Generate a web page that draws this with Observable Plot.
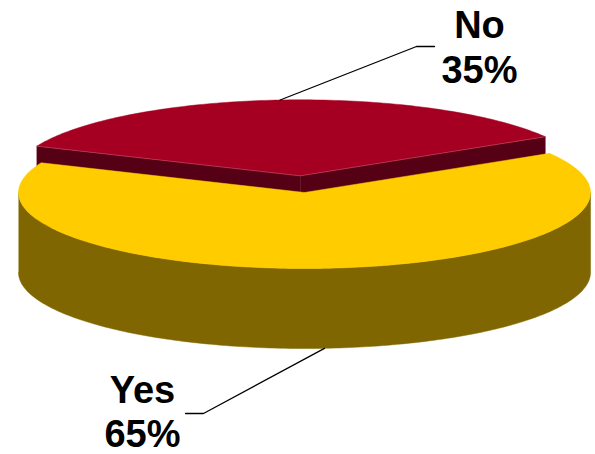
<!DOCTYPE html>
<html>
<head>
<meta charset="utf-8">
<script src="https://cdn.jsdelivr.net/npm/d3@7"></script>
<script src="https://cdn.jsdelivr.net/npm/@observablehq/plot@0.6"></script>
<style>
  html, body { margin: 0; padding: 0; background: #fff; }
  #chart svg { display: block; }
</style>
</head>
<body>
<div id="chart"></div>
<script>
// ---- data ----
const categories = ["Yes", "No"];
const values = [65, 35];
const topColors = ["#FFCC00", "#A50021"];
const sideColors = ["#806600", "#560016"];

// ---- layout ----
const W = 595, H = 454;
const cx = 304, cy = 192, rx = 286, ry = 76, depth = 80;
const startDeg = 31;            // where the "No" slice begins (counter-clockwise)
const explodeFrac = [0, 0.22];  // "No" slice is pulled out
const rad = d => d * Math.PI / 180;

// angles: No first from startDeg, then Yes
const total = d3.sum(values);
const order = [1, 0];
let acc = startDeg;
const slices = [];
for (const i of order) {
  const span = values[i] / total * 360;
  const a0 = acc, a1 = acc + span;
  acc = a1;
  const mid = rad((a0 + a1) / 2);
  const e = explodeFrac[i];
  slices[i] = {i, a0, a1, dx: e * rx * Math.cos(mid), dy: -e * ry * Math.sin(mid)};
}
const pt = (s, deg, down = 0) => ({
  x: cx + s.dx + rx * Math.cos(rad(deg)),
  y: cy + s.dy - ry * Math.sin(rad(deg)) + down
});
const arc = (s, from, to, down = 0) => {
  const n = Math.max(2, Math.ceil(Math.abs(to - from) / 1));
  return d3.range(n + 1).map(k => pt(s, from + (to - from) * k / n, down));
};
const apex = (s, down = 0) => ({x: cx + s.dx, y: cy + s.dy + down});

const marks = [];
// back slice (No): cut faces then top
{
  const s = slices[1];
  for (const a of [s.a1, s.a0]) {
    const p = pt(s, a);
    const face = [apex(s), p, {x: p.x, y: p.y + depth}, apex(s, depth)];
    marks.push(Plot.line(face, {x: "x", y: "y", fill: sideColors[1], stroke: sideColors[1], strokeWidth: 0.5}));
  }
  const top = [apex(s), ...arc(s, s.a0, s.a1), apex(s)];
  marks.push(Plot.line(top, {x: "x", y: "y", fill: topColors[1], stroke: topColors[1], strokeWidth: 0.5}));
  marks.push(Plot.line([pt(s, s.a1), apex(s), pt(s, s.a0)], {x: "x", y: "y", stroke: "#c8506a", strokeWidth: 0.8, strokeOpacity: 0.7}));
}
// front slice (Yes): outer side then top
{
  const s = slices[0];
  const from = Math.max(s.a0, 180), to = Math.min(s.a1, 360);
  const side = [...arc(s, from, to), ...arc(s, to, from, depth)];
  marks.push(Plot.line(side, {x: "x", y: "y", fill: sideColors[0], stroke: sideColors[0], strokeWidth: 0.5}));
  const top = [apex(s), ...arc(s, s.a0, s.a1), apex(s)];
  marks.push(Plot.line(top, {x: "x", y: "y", fill: topColors[0], stroke: topColors[0], strokeWidth: 0.5}));
}

// ---- labels with leader lines ----
const labelX = [142, 479];
const labelBase = [[402, 446], [37, 82]];
const elbows = [[{x: 203, y: 413}, {x: 185, y: 413}], [{x: 416, y: 46}, {x: 434, y: 46}]];
for (const i of [0, 1]) {
  const s = slices[i];
  const m = (s.a0 + s.a1) / 2;
  const anchor = i === 0 ? pt(s, m, depth) : pt(s, m);
  marks.push(Plot.line([anchor, ...elbows[i]], {x: "x", y: "y", stroke: "#000", strokeWidth: 1.3}));
  const rows = [
    {x: labelX[i], y: labelBase[i][0], t: categories[i]},
    {x: labelX[i], y: labelBase[i][1], t: values[i] + "%"}
  ];
  marks.push(Plot.text(rows, {
    x: "x", y: "y", text: "t", lineAnchor: "bottom", textAnchor: "middle",
    fontSize: 38, fontWeight: "bold", fontFamily: "Liberation Sans, Arial, sans-serif", fill: "#000"
  }));
}

const chart = Plot.plot({
  width: W, height: H, margin: 0,
  x: {domain: [0, W], range: [0, W], axis: null},
  y: {domain: [0, H], range: [0, H], axis: null},
  style: {background: "#fff", overflow: "visible"},
  marks
});
document.getElementById("chart").appendChild(chart);
</script>
</body>
</html>
